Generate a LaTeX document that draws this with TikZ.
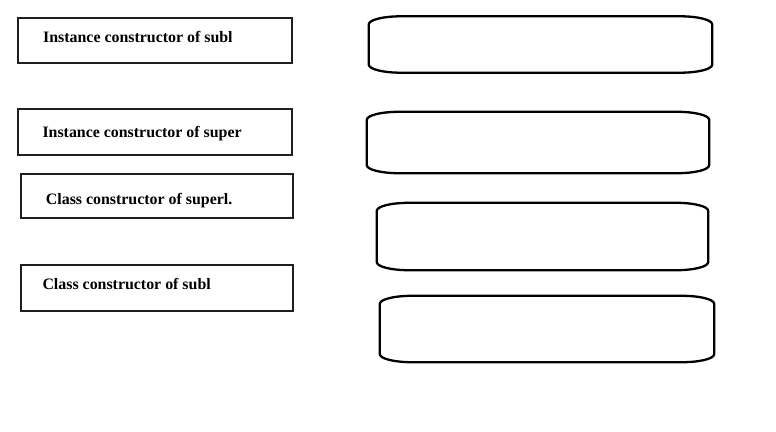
\documentclass[tikz,border=0pt]{standalone}
\usepackage{fontspec}
\setmainfont{Liberation Serif}[BoldFont={Liberation Serif Bold}]
\newfontfamily\boxfont{Liberation Serif Bold}
\usetikzlibrary{calc}
\tikzset{
  lbox/.style={draw=black!88, line width=1.5pt, rectangle, inner sep=0pt},
  ltext/.style={anchor=base west, inner sep=0pt, font=\fontsize{15.9}{18}\selectfont\boxfont},
  rholder/.style={rectangle, draw=none, inner sep=0pt},
  rslot/.style={draw=black, line width=2.3pt, line join=round}
}
\newcommand\slotshape[1]{%
  \draw[rslot] ($(#1.north west)+(0pt,-8pt)$)
    arc[start angle=180, end angle=90, x radius=32pt, y radius=8pt]
    -- ($(#1.north east)+(-32pt,0pt)$)
    arc[start angle=90, end angle=0, x radius=32pt, y radius=8pt]
    -- ($(#1.south east)+(0pt,8pt)$)
    arc[start angle=0, end angle=-90, x radius=32pt, y radius=8pt]
    -- ($(#1.south west)+(32pt,0pt)$)
    arc[start angle=270, end angle=180, x radius=32pt, y radius=8pt]
    -- cycle;}
\begin{document}
\begin{tikzpicture}[x=1pt, y=1pt]
\useasboundingbox (0,0) rectangle (776,-431);
% left boxes
\node[lbox, minimum width=274pt, minimum height=45pt] (l1) at (155,-40.5) {};
\node[lbox, minimum width=274pt, minimum height=46pt] (l2) at (155,-132) {};
\node[lbox, minimum width=272pt, minimum height=44pt] (l3) at (157,-196) {};
\node[lbox, minimum width=272pt, minimum height=46pt] (l4) at (157,-288) {};
\node[ltext] (t1) at (43,-42.3) {Instance constructor of subl};
\node[ltext] (t2) at (42.3,-137.7) {Instance constructor of super};
\node[ltext] (t3) at (45.7,-204) {Class constructor of superl.};
\node[ltext] (t4) at (42.3,-289) {Class constructor of subl};
% right slots
\node[rholder, minimum width=343pt, minimum height=56pt] (r1) at (540.5,-44.5) {};
\node[rholder, minimum width=342pt, minimum height=61pt] (r2) at (538,-142.5) {};
\node[rholder, minimum width=331pt, minimum height=67pt] (r3) at (542.5,-236.5) {};
\node[rholder, minimum width=334pt, minimum height=66pt] (r4) at (547,-329) {};
\slotshape{r1}
\slotshape{r2}
\slotshape{r3}
\slotshape{r4}
\end{tikzpicture}
\end{document}
